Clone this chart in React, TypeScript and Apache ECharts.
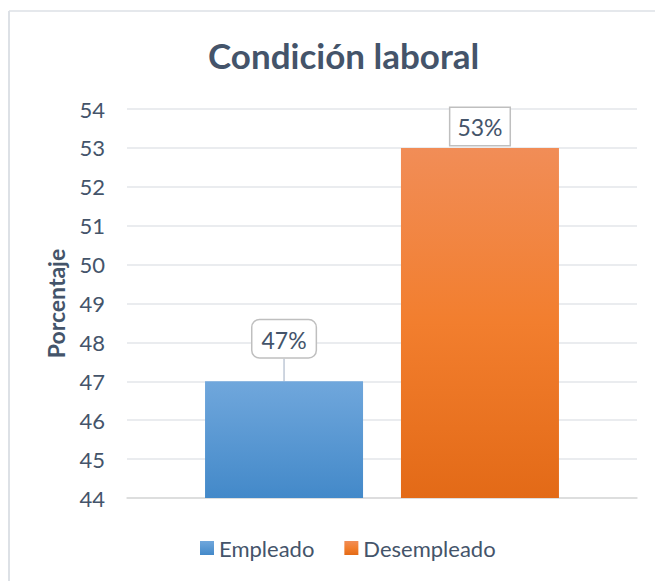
import React, { useEffect, useRef } from "react";
import * as echarts from "echarts";

const categories = ["Condición laboral"];
const seriesNames = ["Empleado", "Desempleado"];
const empleadoValues = [47];
const desempleadoValues = [53];
const yTicks = { min: 44, max: 54, interval: 1 };

const TEXT = "#44546a";
const FONT = "Lato, 'Open Sans', sans-serif";

export default function App() {
  const ref = useRef<HTMLDivElement>(null);
  useEffect(() => {
    if (!ref.current) return;
    const chart = echarts.init(ref.current, null, { renderer: "svg" });
    const blue = new echarts.graphic.LinearGradient(0, 0, 0, 1, [
      { offset: 0, color: "#70a7dc" },
      { offset: 1, color: "#4389c9" },
    ]);
    const orange = new echarts.graphic.LinearGradient(0, 0, 0, 1, [
      { offset: 0, color: "#f18d57" },
      { offset: 0.5, color: "#f27e2e" },
      { offset: 1, color: "#e36a17" },
    ]);
    const labelBase = {
      show: true,
      position: "top" as const,
      formatter: "{c}%",
      color: TEXT,
      fontFamily: FONT,
      fontSize: 23,
      backgroundColor: "#fff",
      borderColor: "#bfbfbf",
      borderWidth: 1.5,
      distance: 3,
    };
    chart.setOption({
      animation: false,
      textStyle: { fontFamily: FONT },
      title: {
        text: "Condición laboral",
        left: 203,
        top: 32,
        textStyle: { color: TEXT, fontSize: 35, fontWeight: "bold", fontFamily: FONT },
      },
      legend: {
        bottom: 17,
        left: 195,
        itemWidth: 14,
        itemHeight: 14,
        itemGap: 30,
        icon: "rect",
        textStyle: { color: TEXT, fontSize: 22, fontFamily: FONT },
        data: seriesNames,
      },
      grid: { left: 127, right: 18, top: 109, bottom: 83 },
      xAxis: {
        type: "category",
        data: categories,
        axisLine: { show: true, lineStyle: { color: "#d9d9d9", width: 1.5 } },
        axisTick: { show: false },
        axisLabel: { show: false },
      },
      yAxis: {
        type: "value",
        min: yTicks.min,
        max: yTicks.max,
        interval: yTicks.interval,
        name: "Porcentaje",
        nameLocation: "middle",
        nameGap: 60,
        nameTextStyle: { color: TEXT, fontSize: 23, fontWeight: "bold", fontFamily: FONT },
        axisLine: { show: false },
        axisTick: { show: false },
        axisLabel: { color: TEXT, fontSize: 22, margin: 22, fontFamily: FONT },
        splitLine: { lineStyle: { color: "#e3e6ea", width: 1.5 } },
      },
      series: [
        {
          name: seriesNames[0],
          type: "bar",
          data: empleadoValues,
          itemStyle: { color: blue },
          barWidth: 158,
          barGap: "24%",
          label: { ...labelBase, borderRadius: 7, padding: [8, 9, 6, 9] },
          labelLayout: { dy: -21 },
          labelLine: { show: true, lineStyle: { color: "#bfc8d6", width: 1.5 } },
        },
        {
          name: seriesNames[1],
          type: "bar",
          data: desempleadoValues,
          itemStyle: { color: orange },
          barWidth: 158,
          barGap: "24%",
          label: { ...labelBase, borderRadius: 0, padding: [8, 7, 6, 7] },
        },
      ],
      graphic: [
        { type: "line", shape: { x1: 9, y1: 11, x2: 655, y2: 11 }, style: { stroke: "#dde1e6", lineWidth: 1.5 } },
        { type: "line", shape: { x1: 9, y1: 11, x2: 9, y2: 581 }, style: { stroke: "#dde1e6", lineWidth: 2 } },
      ],
    });
    return () => chart.dispose();
  }, []);
  return (
    <div
      ref={ref}
      style={{ position: "absolute", left: 0, top: 0, width: 655, height: 581, background: "#fff" }}
    />
  );
}
